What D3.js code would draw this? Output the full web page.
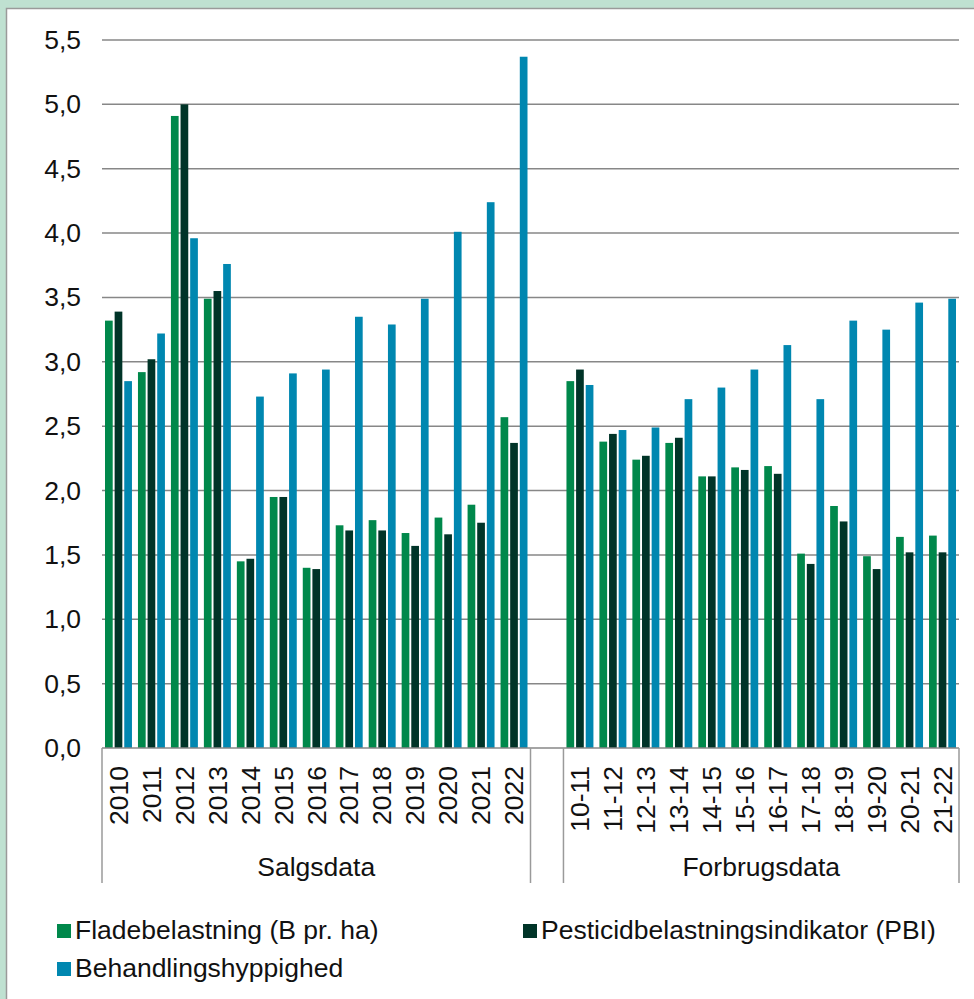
<!DOCTYPE html>
<html>
<head>
<meta charset="utf-8">
<script src="https://cdn.jsdelivr.net/npm/d3@7"></script>
<style>
  html, body { margin: 0; padding: 0; background: #bfe1d1; }
  svg { display: block; }
</style>
</head>
<body>
<div id="chart"></div>
<script>
// kategorier
const salgYears = ["2010", "2011", "2012", "2013", "2014", "2015", "2016", "2017", "2018", "2019", "2020", "2021", "2022"]
const forbrugYears = ["10-11", "11-12", "12-13", "13-14", "14-15", "15-16", "16-17", "17-18", "18-19", "19-20", "20-21", "21-22"]
const groupNames = ["Salgsdata", "Forbrugsdata"]

// serier
const seriesNames = ["Fladebelastning (B pr. ha)", "Pesticidbelastningsindikator (PBI)", "Behandlingshyppighed"]
const seriesColors = ["#00884b", "#003428", "#0087b0"]

const fladeSalg = [3.32, 2.92, 4.91, 3.49, 1.45, 1.95, 1.40, 1.73, 1.77, 1.67, 1.79, 1.89, 2.57]
const pbiSalg = [3.39, 3.02, 5.00, 3.55, 1.47, 1.95, 1.39, 1.69, 1.69, 1.57, 1.66, 1.75, 2.37]
const bhSalg = [2.85, 3.22, 3.96, 3.76, 2.73, 2.91, 2.94, 3.35, 3.29, 3.49, 4.01, 4.24, 5.37]

const fladeForbrug = [2.85, 2.38, 2.24, 2.37, 2.11, 2.18, 2.19, 1.51, 1.88, 1.49, 1.64, 1.65]
const pbiForbrug = [2.94, 2.44, 2.27, 2.41, 2.11, 2.16, 2.13, 1.43, 1.76, 1.39, 1.52, 1.52]
const bhForbrug = [2.82, 2.47, 2.49, 2.71, 2.80, 2.94, 3.13, 2.71, 3.32, 3.25, 3.46, 3.49]

// y-akse
const yTicks = [0, 0.5, 1, 1.5, 2, 2.5, 3, 3.5, 4, 4.5, 5, 5.5]

const width = 974
const height = 999
const plot = { left: 102, right: 959, top: 40, bottom: 748 }
const font = "'Liberation Sans', Arial, sans-serif"
const fontSize = "26.5px"

// tabel: en række pr. kategori (gap mellem grupperne)
const rows = []
salgYears.forEach((c, i) => rows.push({ key: "s" + c, label: c, values: [fladeSalg[i], pbiSalg[i], bhSalg[i]] }))
rows.push({ key: "gap", label: "", values: [] })
forbrugYears.forEach((c, i) => rows.push({ key: "f" + c, label: c, values: [fladeForbrug[i], pbiForbrug[i], bhForbrug[i]] }))

const svg = d3.select("#chart").append("svg")
  .attr("width", width)
  .attr("height", height)
  .attr("viewBox", `0 0 ${width} ${height}`)

// hvidt panel
svg.append("rect")
  .attr("x", 6.5)
  .attr("y", 8.5)
  .attr("width", width + 10)
  .attr("height", height + 10)
  .attr("fill", "#ffffff")
  .attr("stroke", "#9a9a9a")
  .attr("stroke-width", 1.5)

const x = d3.scaleBand()
  .domain(rows.map(d => d.key))
  .range([plot.left, plot.right])
  .padding(0)

const xInner = d3.scaleBand()
  .domain(d3.range(seriesNames.length))
  .range([3, x.bandwidth() - 3])
  .paddingInner(0.2)

const y = d3.scaleLinear()
  .domain([0, 5.5])
  .range([plot.bottom, plot.top])

// gitterlinjer
svg.append("g")
  .selectAll("line")
  .data(yTicks.slice(1))
  .enter()
  .append("line")
  .attr("x1", plot.left)
  .attr("x2", plot.right)
  .attr("y1", d => y(d))
  .attr("y2", d => y(d))
  .attr("stroke", "#878787")
  .attr("stroke-width", 1.5)

// y-akse labels
const yAxis = d3.axisLeft(y)
  .tickValues(yTicks)
  .tickSize(0)
  .tickPadding(0)
  .tickFormat(d => d3.format(".1f")(d).replace(".", ","))

svg.append("g")
  .attr("transform", `translate(${plot.left - 21},0)`)
  .call(yAxis)
  .call(g => g.select(".domain").remove())
  .call(g => g.selectAll("text")
    .attr("font-family", font)
    .attr("font-size", fontSize)
    .attr("fill", "#111"))

// søjler
const groups = svg.append("g")
  .selectAll("g")
  .data(rows)
  .enter()
  .append("g")
  .attr("transform", d => `translate(${x(d.key)},0)`)

groups.selectAll("rect")
  .data(d => d.values.map((v, i) => ({ v, i })))
  .enter()
  .append("rect")
  .attr("x", d => xInner(d.i))
  .attr("width", xInner.bandwidth())
  .attr("y", d => y(d.v))
  .attr("height", d => y(0) - y(d.v))
  .attr("fill", d => seriesColors[d.i])

// x-akse linje
const axisBottom = plot.bottom + 135
svg.append("line")
  .attr("x1", plot.left)
  .attr("x2", plot.right)
  .attr("y1", plot.bottom)
  .attr("y2", plot.bottom)
  .attr("stroke", "#878787")
  .attr("stroke-width", 1.5)

// grupperingslinjer
const gapStart = x("gap")
const separators = [plot.left, gapStart, gapStart + x.bandwidth(), plot.right]
svg.append("g")
  .selectAll("line")
  .data(separators)
  .enter()
  .append("line")
  .attr("x1", d => d)
  .attr("x2", d => d)
  .attr("y1", plot.bottom)
  .attr("y2", axisBottom)
  .attr("stroke", "#9a9a9a")
  .attr("stroke-width", 1.5)

// kategori labels (roteret)
svg.append("g")
  .selectAll("text")
  .data(rows.filter(d => d.label))
  .enter()
  .append("text")
  .text(d => d.label)
  .attr("transform", d => `translate(${x(d.key) + x.bandwidth() / 2},${plot.bottom + 18}) rotate(-90)`)
  .attr("text-anchor", "end")
  .attr("dy", "0.35em")
  .attr("font-family", font)
  .attr("font-size", fontSize)
  .attr("fill", "#111")

// gruppe labels
const groupSpans = [
  [plot.left, gapStart],
  [gapStart + x.bandwidth(), plot.right],
]
svg.append("g")
  .selectAll("text")
  .data(groupNames)
  .enter()
  .append("text")
  .text(d => d)
  .attr("x", (d, i) => (groupSpans[i][0] + groupSpans[i][1]) / 2)
  .attr("y", 876)
  .attr("text-anchor", "middle")
  .attr("font-family", font)
  .attr("font-size", fontSize)
  .attr("fill", "#111")

// legend
const legendPos = [
  { x: 57, y: 939 },
  { x: 523, y: 939 },
  { x: 57, y: 977 },
]
const legend = svg.append("g")
  .selectAll("g")
  .data(seriesNames)
  .enter()
  .append("g")
  .attr("transform", (d, i) => `translate(${legendPos[i].x},${legendPos[i].y})`)

legend.append("rect")
  .attr("x", 0)
  .attr("y", -15)
  .attr("width", 14)
  .attr("height", 14)
  .attr("fill", (d, i) => seriesColors[i])

legend.append("text")
  .text(d => d)
  .attr("x", 18)
  .attr("y", 0)
  .attr("font-family", font)
  .attr("font-size", fontSize)
  .attr("fill", "#111")
</script>
</body>
</html>
